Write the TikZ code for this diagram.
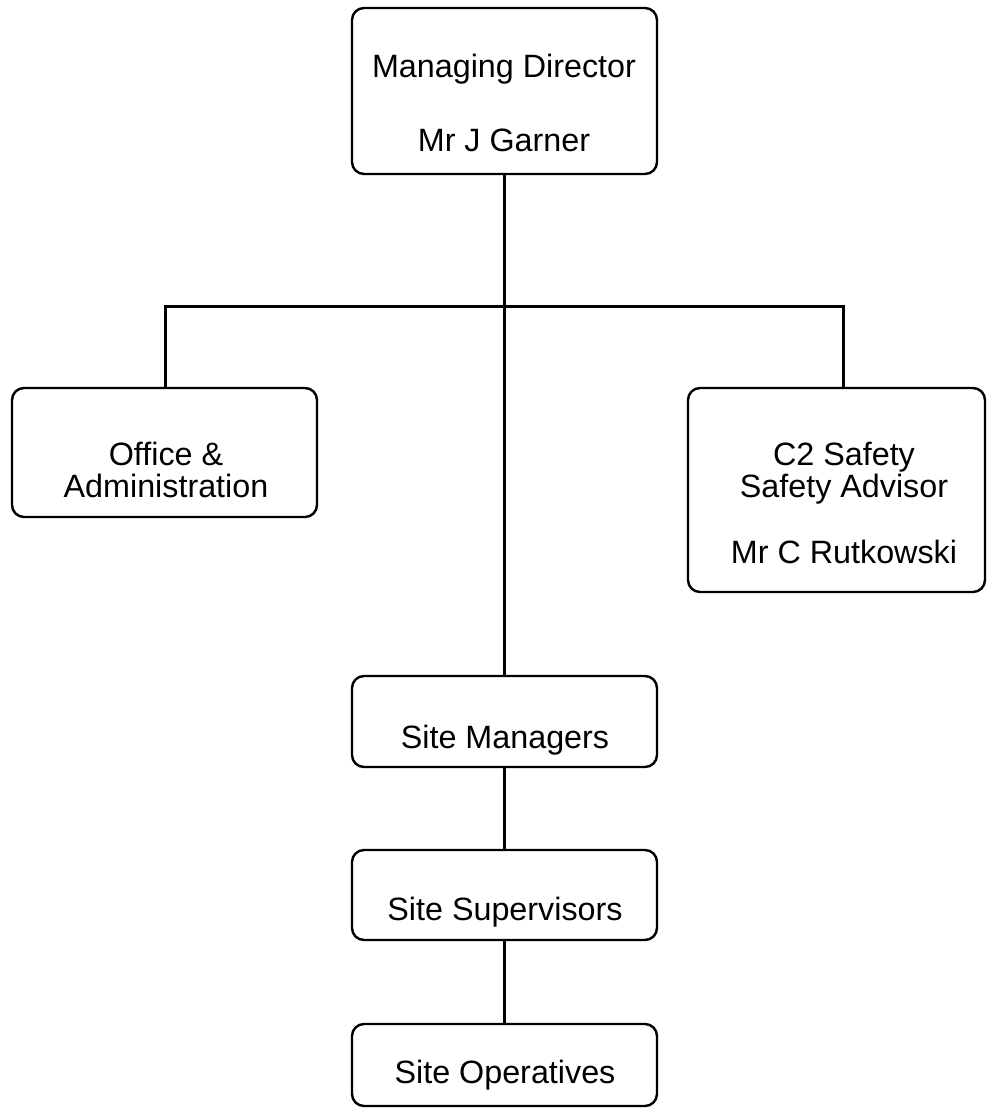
\documentclass[tikz,border=0pt]{standalone}
\usepackage{fontspec}
\setmainfont{Liberation Sans}
\begin{document}
\begin{tikzpicture}[x=1pt,y=-1pt,
  box/.style={draw=black, line width=2.4pt, rounded corners=12pt, inner sep=0pt, fill=white},
  lbl/.style={anchor=base, inner sep=0pt, font=\fontsize{32.3}{36}\selectfont},
  conn/.style={draw=black, line width=3pt}]
\useasboundingbox (0,0) rectangle (987,1110);
% boxes
\node[box, minimum width=305pt, minimum height=166pt] (md) at (504.5,91) {};
\node[box, minimum width=305pt, minimum height=129pt] (office) at (164.5,452.5) {};
\node[box, minimum width=297pt, minimum height=204pt] (c2) at (836.5,490) {};
\node[box, minimum width=305pt, minimum height=91pt] (sm) at (504.5,721.5) {};
\node[box, minimum width=305pt, minimum height=90pt] (ss) at (504.5,895) {};
\node[box, minimum width=305pt, minimum height=82pt] (so) at (504.5,1065) {};
% texts
\node[lbl] (mdt1) at (504,78) {Managing Director};
\node[lbl] (mdt2) at (504,152) {Mr J Garner};
\node[lbl] (oft1) at (166,465) {Office \&};
\node[lbl] (oft2) at (166,497) {Administration};
\node[lbl] (c2t1) at (844,465) {C2 Safety};
\node[lbl] (c2t2) at (844,497) {Safety Advisor};
\node[lbl] (c2t3) at (844,563) {Mr C Rutkowski};
\node[lbl] (smt) at (505,748) {Site Managers};
\node[lbl] (sst) at (505,920) {Site Supervisors};
\node[lbl] (sot) at (505,1083) {Site Operatives};
% connectors
\coordinate (hl) at (165,306);
\coordinate (hr) at (843,306);
\draw[conn] (md.south) -- (sm.north);
\draw[conn, line cap=rect] (hl) -- (hr);
\draw[conn] (hl) -- (hl |- office.north);
\draw[conn] (hr) -- (hr |- c2.north);
\draw[conn] (sm.south) -- (ss.north);
\draw[conn] (ss.south) -- (so.north);
\end{tikzpicture}
\end{document}
